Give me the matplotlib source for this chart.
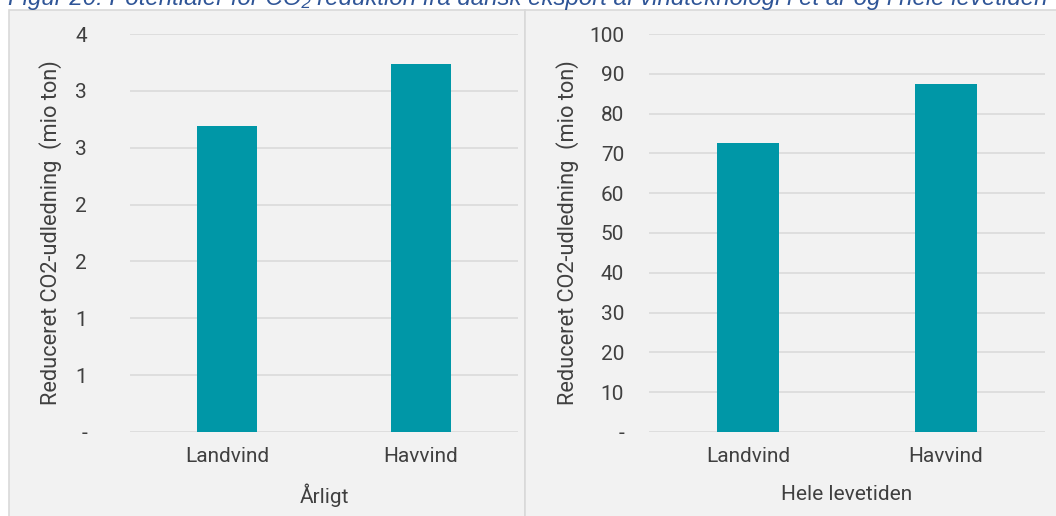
import matplotlib
matplotlib.use("Agg")
import matplotlib.pyplot as plt
from matplotlib.patches import Rectangle
from matplotlib.ticker import FixedLocator, FuncFormatter

# Data: reduced CO2 emissions (mio ton) from Danish wind technology export
categories = ["Landvind", "Havvind"]
annual = [2.69, 3.24]
lifetime = [72.6, 87.4]
annual_ticks = [0, 0.5, 1.0, 1.5, 2.0, 2.5, 3.0, 3.5]
lifetime_ticks = [0, 10, 20, 30, 40, 50, 60, 70, 80, 90, 100]
panel_titles = ["Årligt", "Hele levetiden"]
ylabel = "Reduceret CO2-udledning  (mio ton)"
title = ("Figur 20: Potentialer for CO\u2082 reduktion fra dansk eksport af "
         "vindteknologi i et år og i hele levetiden")

W, H = 1056, 516
BAR = "#0097A7"
GRID = "#d9d9d9"
TEXT = "#404040"
PANEL = "#f2f2f2"
FONT = ["Roboto", "DejaVu Sans"]
FS = 15

fig = plt.figure(figsize=(W / 100, H / 100), dpi=100)
fig.patch.set_facecolor("white")


def fx(px):
    return px / W


def fy(py):
    return 1 - py / H


# Panel backgrounds
for x0, x1 in [(9, 525), (525, 1070)]:
    fig.patches.append(Rectangle((fx(x0), fy(530)), fx(x1 - x0), (530 - 10) / H,
                                 transform=fig.transFigure, facecolor=PANEL,
                                 edgecolor=GRID, linewidth=1.2, zorder=-10))


def excel_int(v):
    if v == 0:
        return "-"
    return str(int(v + 0.5))


def draw_panel(left, right, values, ticks, ymax, tick_pad, ylabel_x, name):
    ax = fig.add_axes([fx(left), fy(432), fx(right - left), (432 - 34) / H])
    ax.set_facecolor("none")
    x = list(range(len(categories)))
    ax.bar(x, values, width=0.31, color=BAR, zorder=3)
    ax.set_xlim(-0.5, len(categories) - 0.5)
    ax.set_ylim(0, ymax)
    ax.yaxis.set_major_locator(FixedLocator(ticks))
    ax.yaxis.set_major_formatter(FuncFormatter(lambda v, p: excel_int(v)))
    ax.set_xticks(x)
    ax.set_xticklabels(categories)
    ax.grid(axis="y", color=GRID, linewidth=1.1, zorder=0)
    ax.set_axisbelow(True)
    for s in ax.spines.values():
        s.set_visible(False)
    ax.tick_params(axis="both", length=0, labelcolor=TEXT, labelsize=FS)
    ax.tick_params(axis="y", pad=tick_pad)
    ax.tick_params(axis="x", pad=11)
    for lab in ax.get_xticklabels() + ax.get_yticklabels():
        lab.set_family(FONT)
    fig.text(fx(ylabel_x), fy(233), ylabel, rotation=90, ha="center",
             va="center", fontsize=15.7, color=TEXT, family=FONT)
    fig.text(fx((left + right) / 2), fy(495), name, ha="center", va="center",
             fontsize=FS, color=TEXT, family=FONT)
    return ax


draw_panel(130, 518, annual, annual_ticks, 3.5, 31, 51, panel_titles[0])
draw_panel(649, 1045, lifetime, lifetime_ticks, 100, 18, 568, panel_titles[1])

fig.text(fx(8), fy(5), title, ha="left", va="baseline", fontsize=17.3,
         style="italic", color="#2f5597",
         family=["Liberation Sans", "DejaVu Sans"])

fig.savefig("out.png", dpi=100, facecolor="white")
